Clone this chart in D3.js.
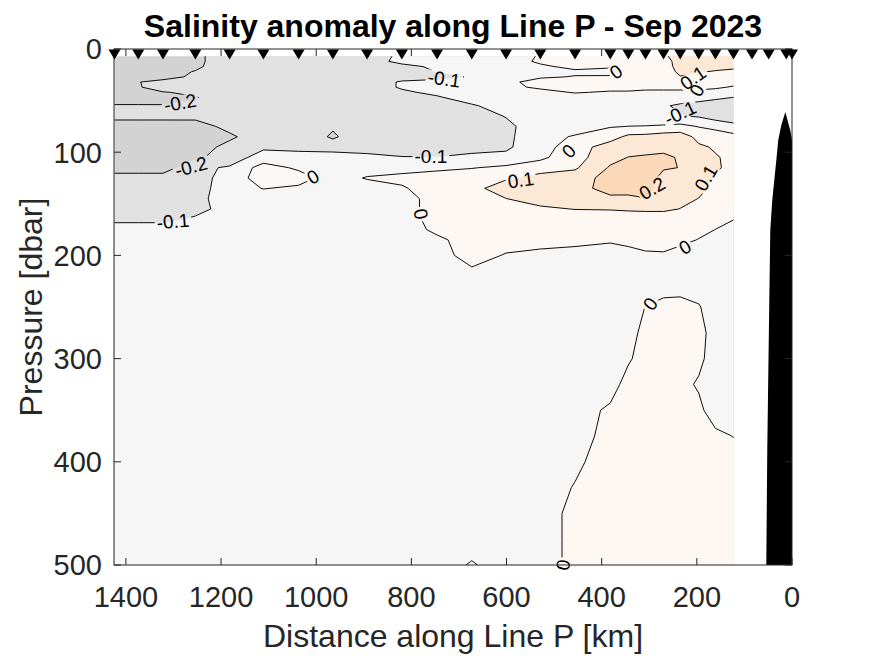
<!DOCTYPE html>
<html><head><meta charset="utf-8">
<script src="https://cdn.jsdelivr.net/npm/d3@7/dist/d3.min.js"></script>
<style>
html,body{margin:0;padding:0;background:#fff;}
svg{display:block;font-family:"Liberation Sans",Arial,Helvetica,sans-serif;}
</style></head><body>
<svg id="chart" width="875" height="656"></svg>
<script>
// ---------------- data ----------------
const stationDist = [1424,1374,1322,1254,1182,1111,1037,965,893,820,746,673,601,529,456,382,344,308,270,235,196,161,123,84,49,12,0];
const gridPressure = [7,12,17,22,27,32,37,42,47,55,65,75,85,95,105,115,125,135,145,155,165,175,185,200,215,230,250,275,300,325,350,375,400,425,450,475,500];
const levels = [-0.2,-0.1,0,0.1,0.2];
const levelColors = ["#d3d3d3","#e1e1e1","#f6f6f6","#fdf8f3","#fde8d5","#fbd8b8"];
const xTicks = [1400,1200,1000,800,600,400,200,0];
const yTicks = [0,100,200,300,400,500];

// salinity anomaly profiles (one per station, values at gridPressure)
const st1424 = [-0.25,-0.25,-0.25,-0.25,-0.25,-0.25,-0.24,-0.24,-0.23,-0.195,
 -0.162,-0.262,-0.26,-0.26,-0.25,-0.254,-0.154,-0.15,-0.14,-0.13,
 -0.133,-0.033,-0.05,-0.05,-0.05,-0.05,-0.05,-0.05,-0.05,-0.05,
 -0.05,-0.05,-0.05,-0.05,-0.05,-0.05,-0.05];
const st1374 = [-0.25,-0.25,-0.25,-0.24,-0.23,-0.205,-0.21,-0.23,-0.23,-0.195,
 -0.162,-0.262,-0.26,-0.26,-0.25,-0.254,-0.154,-0.15,-0.14,-0.13,
 -0.133,-0.033,-0.05,-0.05,-0.05,-0.05,-0.05,-0.05,-0.05,-0.05,
 -0.05,-0.05,-0.05,-0.05,-0.05,-0.05,-0.05];
const st1322 = [-0.25,-0.25,-0.24,-0.23,-0.255,-0.155,-0.146,-0.206,-0.22,-0.197,
 -0.162,-0.262,-0.26,-0.26,-0.25,-0.254,-0.154,-0.15,-0.14,-0.13,
 -0.133,-0.033,-0.05,-0.05,-0.05,-0.05,-0.05,-0.05,-0.05,-0.05,
 -0.05,-0.05,-0.05,-0.05,-0.05,-0.05,-0.05];
const st1254 = [-0.22,-0.22,-0.215,-0.196,-0.17,-0.16,-0.16,-0.18,-0.205,-0.19,
 -0.177,-0.237,-0.25,-0.24,-0.22,-0.12,-0.14,-0.14,-0.13,-0.141,
 -0.081,-0.04,-0.05,-0.05,-0.05,-0.05,-0.05,-0.05,-0.05,-0.05,
 -0.05,-0.05,-0.05,-0.05,-0.05,-0.05,-0.05];
const st1182 = [-0.15,-0.15,-0.15,-0.15,-0.15,-0.16,-0.16,-0.16,-0.15,-0.16,
 -0.17,-0.175,-0.215,-0.175,-0.15,-0.09,-0.06,-0.05,-0.05,-0.05,
 -0.05,-0.05,-0.05,-0.05,-0.05,-0.05,-0.05,-0.05,-0.05,-0.05,
 -0.05,-0.05,-0.05,-0.05,-0.05,-0.05,-0.05];
const st1111 = [-0.15,-0.15,-0.15,-0.15,-0.15,-0.15,-0.15,-0.15,-0.15,-0.15,
 -0.15,-0.15,-0.15,-0.117,-0.057,0.043,0.05,0.004,-0.056,-0.05,
 -0.05,-0.05,-0.05,-0.05,-0.05,-0.05,-0.05,-0.05,-0.05,-0.05,
 -0.05,-0.05,-0.05,-0.05,-0.05,-0.05,-0.05];
const st1037 = [-0.15,-0.15,-0.15,-0.15,-0.15,-0.15,-0.15,-0.15,-0.15,-0.15,
 -0.15,-0.15,-0.15,-0.125,-0.065,-0.017,0.043,-0.018,-0.05,-0.05,
 -0.05,-0.05,-0.05,-0.05,-0.05,-0.05,-0.05,-0.05,-0.05,-0.05,
 -0.05,-0.05,-0.05,-0.05,-0.05,-0.05,-0.05];
const st965 = [-0.15,-0.15,-0.15,-0.15,-0.15,-0.15,-0.15,-0.15,-0.15,-0.15,
 -0.15,-0.192,-0.21,-0.165,-0.03,-0.05,-0.05,-0.05,-0.05,-0.05,
 -0.05,-0.05,-0.05,-0.05,-0.05,-0.05,-0.05,-0.05,-0.05,-0.05,
 -0.05,-0.05,-0.05,-0.05,-0.05,-0.05,-0.05];
const st893 = [-0.15,-0.15,-0.15,-0.15,-0.15,-0.15,-0.15,-0.15,-0.15,-0.15,
 -0.15,-0.15,-0.15,-0.138,-0.078,-0.05,0.008,-0.05,-0.05,-0.05,
 -0.05,-0.05,-0.05,-0.05,-0.05,-0.05,-0.05,-0.05,-0.05,-0.05,
 -0.05,-0.05,-0.05,-0.05,-0.05,-0.05,-0.05];
const st820 = [-0.08,-0.07,-0.13,-0.15,-0.14,-0.09,-0.09,-0.115,-0.15,-0.15,
 -0.15,-0.15,-0.15,-0.155,-0.095,-0.041,0.03,-0.013,-0.05,-0.05,
 -0.05,-0.07,-0.05,-0.05,-0.05,-0.05,-0.05,-0.05,-0.05,-0.05,
 -0.05,-0.05,-0.05,-0.05,-0.05,-0.05,-0.05];
const st746 = [-0.06,-0.07,-0.08,-0.097,-0.15,-0.052,-0.06,-0.08,-0.11,-0.14,
 -0.15,-0.15,-0.15,-0.16,-0.097,-0.03,0.064,0.06,0.05,0.05,
 0.04,0.03,-0.028,-0.05,-0.05,-0.05,-0.05,-0.05,-0.05,-0.05,
 -0.05,-0.05,-0.05,-0.05,-0.05,-0.05,-0.05];
const st673 = [-0.06,-0.06,-0.06,-0.07,-0.085,-0.06,-0.06,-0.06,-0.06,-0.11,
 -0.15,-0.15,-0.15,-0.137,-0.077,-0.005,0.06,0.07,0.06,0.06,
 0.06,0.06,0.06,0.05,-0.017,-0.05,-0.05,-0.05,-0.05,-0.05,
 -0.05,-0.05,-0.05,-0.05,-0.05,-0.05,0.01];
const st601 = [-0.06,-0.06,-0.06,-0.06,-0.05,-0.03,-0.03,-0.05,-0.06,-0.06,
 -0.095,-0.125,-0.12,-0.115,-0.0775,0.02,0.088,0.15,0.099,0.07,
 0.06,0.06,0.05,-0.009,-0.05,-0.05,-0.05,-0.05,-0.05,-0.05,
 -0.05,-0.05,-0.05,-0.05,-0.05,-0.05,-0.05];
const st529 = [0.01,0.02,-0.02,-0.04,-0.015,0.045,0.02,-0.037,-0.05,-0.05,
 -0.04,-0.04,-0.04,-0.04,-0.02,0.051,0.138,0.16,0.14,0.084,
 0.06,0.06,0.05,-0.035,-0.05,-0.05,-0.05,-0.05,-0.05,-0.05,
 -0.05,-0.05,-0.05,-0.05,-0.05,-0.05,-0.05];
const st456 = [0.05,0.05,0.03,-0.02,0.006,0.05,0.05,0.008,-0.053,-0.05,
 -0.05,-0.05,0.01,0.05,0.06,0.087,0.147,0.17,0.15,0.103,
 0.04,0.05,0.03,-0.04,-0.05,-0.05,-0.05,-0.05,-0.05,-0.05,
 -0.05,-0.05,-0.02,0.006,0.03,0.03,0.03];
const st382 = [0.05,0.04,0.01,-0.024,0.008,0.05,0.04,-0.013,-0.05,-0.05,
 -0.05,-0.006,0.054,0.152,0.17,0.21,0.24,0.23,0.184,0.105,
 0.055,0.05,0.012,-0.048,-0.05,-0.05,-0.05,-0.05,-0.05,-0.05,
 0.019,0.04,0.05,0.05,0.05,0.05,0.05];
const st344 = [0.05,0.05,0.05,0.03,0.05,0.05,0.04,-0.013,-0.05,-0.05,
 -0.05,0.001,0.123,0.16,0.202,0.24,0.26,0.24,0.178,0.105,
 0.079,0.06,0.03,-0.04,-0.05,-0.05,-0.05,-0.05,-0.015,0.045,
 0.05,0.05,0.05,0.05,0.05,0.05,0.05];
const st308 = [0.05,0.05,0.05,0.05,0.05,0.05,0.03,-0.025,-0.05,-0.05,
 -0.05,0.003,0.129,0.16,0.212,0.25,0.26,0.24,0.197,0.12,
 0.037,0.04,0.03,-0.012,-0.05,-0.04,0.002,0.04,0.05,0.05,
 0.05,0.05,0.05,0.05,0.05,0.05,0.05];
const st270 = [0.08,0.05,0.05,0.05,0.05,0.05,0.03,-0.025,-0.05,-0.09,
 -0.08,0.013,0.149,0.17,0.22,0.21,0.165,0.15,0.14,0.12,
 0.037,0.04,0.03,-0.009,-0.05,-0.03,0.024,0.05,0.05,0.05,
 0.05,0.05,0.05,0.05,0.05,0.05,0.05];
const st235 = [0.15,0.15,0.14,0.12,0.096,0.06,0.03,-0.025,-0.05,-0.115,
 -0.095,0.028,0.154,0.17,0.19,0.198,0.17,0.15,0.13,0.098,
 0.07,0.06,0.04,-0.063,-0.05,-0.03,0.029,0.05,0.05,0.05,
 0.05,0.05,0.05,0.05,0.05,0.05,0.05];
const st196 = [0.15,0.14,0.13,0.105,0.085,0.06,0.03,-0.029,-0.07,-0.129,
 -0.11,-0.005,0.07,0.115,0.14,0.15,0.15,0.13,0.098,0.08,
 0.06,0.04,-0.0065,-0.05,-0.05,-0.04,0.007,0.04,0.04,-0.02,
 0.04,0.05,0.05,0.05,0.05,0.05,0.05];
const st161 = [0.14,0.13,0.12,0.095,0.07,0.05,0.015,-0.037,-0.08,-0.16,
 -0.14,-0.04,0.074,0.09,0.107,0.11,0.09,0.07,0.06,0.05,
 0.03,-0.001,-0.04,-0.05,-0.05,-0.05,-0.05,-0.05,-0.08,-0.05,
 -0.09,0.038,0.05,0.05,0.05,0.05,0.05];
const st123 = [0.13,0.12,0.11,0.089,0.06,0.03,-0.009,-0.06,-0.102,-0.15,
 -0.15,-0.075,0.034,0.06,0.08,0.08,0.07,0.06,0.05,0.03,
 0.003,-0.04,-0.05,-0.05,-0.05,-0.05,-0.05,-0.05,-0.05,-0.05,
 -0.05,-0.004,0.05,0.05,0.05,0.05,0.05];
const profiles = [st1424,st1374,st1322,st1254,st1182,st1111,st1037,st965,st893,st820,st746,st673,
  st601,st529,st456,st382,st344,st308,st270,st235,st196,st161,st123];

// bottom topography near the coast
const bathyDist  = [54, 52, 50, 47.7, 45.6, 41.4, 37.2, 33, 28.8, 22.5, 14, 3.6, 0];
const bathyDepth = [500, 389, 321, 243, 175, 146, 127, 108, 88, 74, 61, 79, 88];

// contour labels (position in km / dbar, rotation)
const labelText  = ["-0.2","-0.2","-0.1","0","-0.1","-0.1","0","0.1","0","-0.1","0","0.1","0.2","0.1","0","0","0","0"];
const labelDist  = [1286,1263,1301,1007,731,759,370,208,200,235,469,570,294,181,780,225,298,481];
const labelPres  = [52,114,167,124,29,104,22,28,40,62,99,127,135,125,160,192,247,500];
const labelAngle = [-10,-15,-5,-30,8,0,-35,-35,-60,-25,-45,-8,-30,-60,80,-30,-55,-80];

// ---------------- chart ----------------
const W = 875, H = 656;
const plot = {left:114, right:792, top:49, bottom:565};
const x = d3.scaleLinear().domain([1425, 0]).range([plot.left, plot.right]);
const y = d3.scaleLinear().domain([0, 500]).range([plot.top, plot.bottom]);

const nx = profiles.length, ny = gridPressure.length;
profiles.forEach((p,i) => { if (p.length !== ny) throw new Error("profile " + i + " has " + p.length); });
const gridDist = stationDist.slice(0, nx);
const values = new Array(nx*ny);
for (let j = 0; j < ny; j++) for (let i = 0; i < nx; i++) values[j*nx + i] = profiles[i][j];

const gxScale = d3.scaleLinear().domain(d3.range(nx).map(i => i + 0.5)).range(gridDist).clamp(true);
const gyScale = d3.scaleLinear().domain(d3.range(ny).map(j => j + 0.5)).range(gridPressure).clamp(true);
const toPx = p => [x(gxScale(p[0])), y(gyScale(p[1]))];
const fmt = p => p[0].toFixed(2) + "," + p[1].toFixed(2);

const contourSet = d3.contours().size([nx, ny]).thresholds(levels)(values);

const svg = d3.select("#chart");
svg.append("rect").attr("width", W).attr("height", H).attr("fill", "#fff");
const defs = svg.append("defs");
const mask = defs.append("mask").attr("id", "lblmask").attr("maskUnits", "userSpaceOnUse")
  .attr("x", 0).attr("y", 0).attr("width", W).attr("height", H);
mask.append("rect").attr("width", W).attr("height", H).attr("fill", "#fff");

// filled contours
const fieldG = svg.append("g");
fieldG.append("rect")
  .attr("x", x(gridDist[0])).attr("y", y(gridPressure[0]))
  .attr("width", x(gridDist[nx-1]) - x(gridDist[0]))
  .attr("height", y(gridPressure[ny-1]) - y(gridPressure[0]))
  .attr("fill", levelColors[0]);
contourSet.forEach((c, k) => {
  const d = c.coordinates.map(poly => poly.map(ring => "M" + ring.map(p => fmt(toPx(p))).join("L") + "Z").join("")).join("");
  fieldG.append("path").attr("d", d).attr("fill", levelColors[k+1]).attr("fill-rule", "evenodd");
});

// contour lines (skip segments on the data boundary)
const eps = 1e-6;
function side(p) {
  return {l: p[0] <= 0.5 + eps, r: p[0] >= nx - 0.5 - eps, t: p[1] <= 0.5 + eps, b: p[1] >= ny - 0.5 - eps};
}
function boundarySeg(a, b) {
  const sa = side(a), sb = side(b);
  return (sa.l && sb.l) || (sa.r && sb.r) || (sa.t && sb.t) || (sa.b && sb.b);
}
const lineG = svg.append("g").attr("mask", "url(#lblmask)");
contourSet.forEach(c => {
  let d = "";
  c.coordinates.forEach(poly => poly.forEach(ring => {
    let pen = false;
    for (let i = 0; i < ring.length - 1; i++) {
      const a = ring[i], b = ring[i+1];
      if (boundarySeg(a, b)) { pen = false; continue; }
      if (!pen) { d += "M" + fmt(toPx(a)); pen = true; }
      d += "L" + fmt(toPx(b));
    }
  }));
  lineG.append("path").attr("d", d).attr("fill", "none").attr("stroke", "#000")
    .attr("stroke-width", 0.95).attr("stroke-linejoin", "round");
});

// contour labels
const lblG = svg.append("g");
labelText.forEach((t, i) => {
  const tr = `translate(${x(labelDist[i])},${y(labelPres[i])}) rotate(${labelAngle[i]})`;
  const txt = lblG.append("text").attr("transform", tr).attr("text-anchor", "middle")
    .attr("dy", "0.35em").attr("font-size", 19).attr("fill", "#000").text(t);
  const bb = txt.node().getBBox();
  mask.append("rect").attr("transform", tr).attr("x", bb.x - 2).attr("y", bb.y + 3)
    .attr("width", bb.width + 4).attr("height", bb.height - 6).attr("fill", "#000");
});

// bathymetry
const bathyArea = d3.area().x(d => x(d[0])).y0(y(500)).y1(d => y(d[1]));
svg.append("path").datum(d3.zip(bathyDist, bathyDepth)).attr("d", bathyArea).attr("fill", "#000");

// axes box and ticks
const axisColor = "#262626";
const axG = svg.append("g").attr("stroke", axisColor).attr("stroke-width", 1);
axG.append("rect").attr("x", plot.left).attr("y", plot.top)
  .attr("width", plot.right - plot.left).attr("height", plot.bottom - plot.top).attr("fill", "none");
const tl = 7;
xTicks.forEach(t => {
  axG.append("line").attr("x1", x(t)).attr("x2", x(t)).attr("y1", plot.bottom).attr("y2", plot.bottom - tl);
  axG.append("line").attr("x1", x(t)).attr("x2", x(t)).attr("y1", plot.top).attr("y2", plot.top + tl);
});
yTicks.forEach(t => {
  axG.append("line").attr("x1", plot.left).attr("x2", plot.left + tl).attr("y1", y(t)).attr("y2", y(t));
  axG.append("line").attr("x1", plot.right).attr("x2", plot.right - tl).attr("y1", y(t)).attr("y2", y(t));
});

// station markers
svg.append("g").selectAll("path").data(stationDist).join("path")
  .attr("transform", d => `translate(${x(d)},${y(0) + 5.5})`)
  .attr("d", "M-6,-5L6,-5L0,5Z").attr("fill", "#000");

// tick labels
svg.append("g").selectAll("text").data(xTicks).join("text")
  .attr("x", d => x(d)).attr("y", 607).attr("text-anchor", "middle")
  .attr("font-size", 29).attr("fill", axisColor).text(d => d);
svg.append("g").selectAll("text").data(yTicks).join("text")
  .attr("x", 102).attr("y", d => y(d) + 10.4).attr("text-anchor", "end")
  .attr("font-size", 29).attr("fill", axisColor).text(d => d);

// axis titles
svg.append("text").attr("x", (plot.left + plot.right) / 2).attr("y", 647).attr("text-anchor", "middle")
  .attr("font-size", 32).attr("fill", axisColor).text("Distance along Line P [km]");
svg.append("text").attr("transform", `translate(42,${(plot.top + plot.bottom) / 2}) rotate(-90)`)
  .attr("text-anchor", "middle").attr("font-size", 32).attr("fill", axisColor).text("Pressure [dbar]");
svg.append("text").attr("x", (plot.left + plot.right) / 2).attr("y", 37).attr("text-anchor", "middle")
  .attr("font-size", 32).attr("font-weight", "bold").attr("fill", "#000")
  .text("Salinity anomaly along Line P - Sep 2023");
</script>
</body></html>
